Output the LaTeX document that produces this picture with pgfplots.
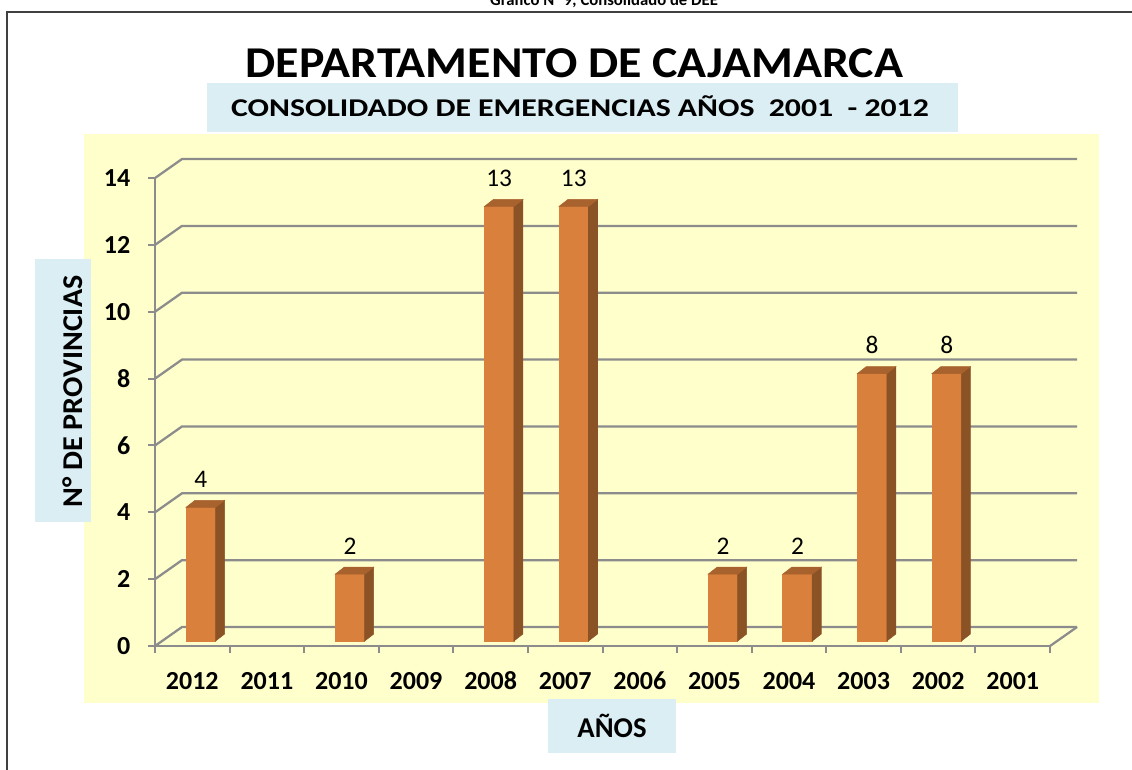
\documentclass[border=0pt]{standalone}
\usepackage{pgfplots}
\pgfplotsset{compat=1.18}
\usepackage{pgfplotstable}
\usepackage{fontspec}
\setmainfont{Carlito}
\definecolor{bgy}{HTML}{FFFFCC}
\definecolor{lblue}{HTML}{DAEEF3}
\definecolor{gridc}{HTML}{8C8C8C}
\definecolor{barf}{HTML}{D9803C}
\definecolor{bars}{HTML}{8B5226}
\definecolor{bart}{HTML}{A8622D}
\newcommand\fs[1]{\fontsize{#1}{#1}\selectfont}
% category index, number of provinces (2012 ... 2001 -> 0 ... 11)
\pgfplotstableread{
x y lab
0 4 4
2 2 2
4 13 13
5 13 13
7 2 2
8 2 2
9 8 8
10 8 8
}\bardata
\begin{document}
\begin{tikzpicture}[x=0.75pt,y=-0.75pt]
\useasboundingbox (0,0) rectangle (1132,769);
% caption (cut at top)
\node[anchor=base, inner sep=0pt, font=\bfseries\fs{12.5}] at (604,5) {Gráfico N° 9; Consolidado de DEE};
% frame
\draw[line width=1.4pt, black!75] (7,800) -- (7,12) -- (1145,12);
% plot area background
\fill[bgy] (84,134) rectangle (1099,703);
% title and subtitle
\fill[lblue] (207,83) rectangle (958,132);
\node[anchor=base, inner sep=0pt, font=\bfseries\fs{33}, xscale=1.088] at (574.5,77) {DEPARTAMENTO DE CAJAMARCA};
\node[anchor=base, inner sep=0pt, font=\bfseries\fs{19.2}, xscale=1.24] at (580,116) {CONSOLIDADO DE EMERGENCIAS AÑOS\ \ 2001\ \ - 2012};
% axis titles
\fill[lblue] (35,259) rectangle (91,522);
\node[rotate=90, anchor=base, inner sep=0pt, font=\bfseries\fs{21.5}, xscale=1.05] at (82,391.5) {N° DE PROVINCIAS};
\fill[lblue] (548,699) rectangle (676,753);
\node[anchor=base, inner sep=0pt, font=\bfseries\fs{21.5}] at (612,737) {AÑOS};
\coordinate (O) at (155,646);
\begin{axis}[
  at={(O)}, anchor=south west,
  x=55.94pt, y=25.07pt,
  xmin=-0.5, xmax=11.5, ymin=0, ymax=14,
  clip=false,
  axis x line=bottom, axis y line=left,
  axis line style={gridc, line width=1.7pt, -},
  tick style={gridc, line width=1.5pt},
  tick align=outside,
  major tick length=5.25pt,
  ytick={0,2,...,14},
  yticklabels={0,2,4,6,8,10,12,14},
  xtick={-0.5,0.5,...,11.5},
  xticklabels={2012,2011,2010,2009,2008,2007,2006,2005,2004,2003,2002,2001,{}},
  xticklabel style={font=\bfseries\fs{19.5}, anchor=base, xshift=27.97pt, yshift=-27pt},
  yticklabel style={font=\bfseries\fs{19.5}, xshift=-9.75pt},
]
% back walls and floor
\pgfplotsinvokeforeach{0,2,...,14}{
  \draw[gridc, line width=1.7pt] (axis cs:-0.5,#1) -- ++(20.25pt,14.25pt) -- ([shift={(20.25pt,14.25pt)}]axis cs:11.5,#1);
}
\draw[gridc, line width=1.7pt] (axis cs:11.5,0) -- ++(20.25pt,14.25pt);
% 3D bars
\addplot[scatter, only marks, mark=*, mark size=0pt, mark options={draw=none,fill=none},
  visualization depends on={y \as \yv},
  scatter/@pre marker code/.code={%
    \pgfmathsetmacro\hh{\yv*25.07}%
    \fill[barf] (-4.69pt,{3.75pt-\hh pt}) rectangle (17.44pt,3.75pt);
    \fill[bars] (17.44pt,{3.75pt-\hh pt}) -- (24.19pt,{9pt-\hh pt}) -- (24.19pt,9pt) -- (17.44pt,3.75pt) -- cycle;
    \fill[bart] (-4.69pt,3.75pt) -- (17.44pt,3.75pt) -- (24.19pt,9pt) -- (2.06pt,9pt) -- cycle;
  },
  scatter/@post marker code/.code={},
] table[x=x, y=y] {\bardata};
% value labels
\addplot[draw=none, mark=none, nodes near coords, point meta=explicit symbolic,
  every node near coord/.append style={font=\fs{19}, black, anchor=center, xshift=6.4pt, yshift=25pt, inner sep=0pt}]
  table[x=x, y=y, meta=lab] {\bardata};
\end{axis}
\end{tikzpicture}
\end{document}
